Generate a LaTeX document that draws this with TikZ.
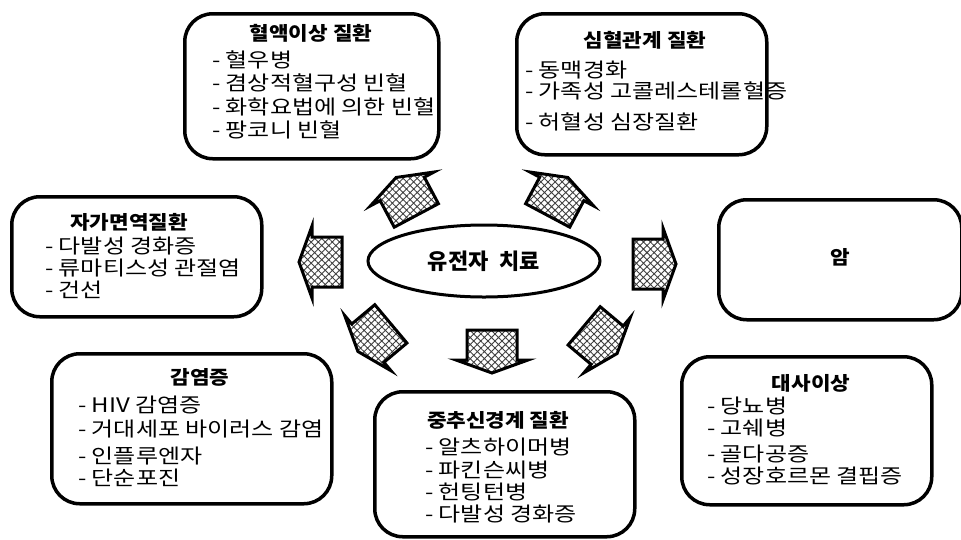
\documentclass[tikz,border=0pt]{standalone}
\usepackage{fontspec}
\setmainfont{Noto Sans CJK KR}
\newfontfamily\krwide{Noto Sans CJK KR}[FakeStretch=1.2]
\newfontfamily\krtitle{Noto Sans CJK KR}[FakeStretch=1.12]
\usetikzlibrary{patterns.meta,shapes.geometric}
\tikzset{
  box/.style={draw, line width=3.5pt, rounded corners=28pt, anchor=north west, inner sep=0pt},
  ttl/.style={font=\krtitle\fontsize{19}{23}\selectfont\bfseries, inner sep=0pt},
  itm/.style={font=\krwide\fontsize{20}{23}\selectfont, anchor=west, inner sep=0pt},
  harrow/.style={draw, line width=3pt, line join=miter, preaction={fill=white},
    pattern={Hatch[angle=45,distance=5pt,line width=0.9pt]}, pattern color=black!75},
}
\begin{document}
\begin{tikzpicture}[x=1pt,y=-1pt]
\useasboundingbox[fill=white] (0,0) rectangle (961,539);

% centre
\node[draw, ellipse, line width=3pt, minimum width=232pt, minimum height=72pt,
      font=\fontsize{22}{24}\selectfont\bfseries] (gt) at (484,261) {유전자\hspace{0.5em}치료};

% arrows
\foreach \cx/\cy/\ang in {406/196/118, 558/196/62, 320/262/180, 655/264/0,
                          374/338/220, 492/352/270, 601/340/320}{
  \begin{scope}[shift={(\cx,\cy)}, rotate=\ang]
    \draw[harrow] (-22,-25) -- (8,-25) -- (8,-36) -- (21,0) -- (8,36) -- (8,25) -- (-22,25) -- cycle;
  \end{scope}
}

% box 1
\node[box, minimum width=254pt, minimum height=145pt] (b1) at (183,12) {};
\node[ttl] (b1t) at (311,33) {혈액이상 질환};
\node[itm] (b1a) at (212,60) {- 혈우병};
\node[itm] (b1b) at (212,83) {- 겸상적혈구성 빈혈};
\node[itm] (b1c) at (212,107) {- 화학요법에 의한 빈혈};
\node[itm] (b1d) at (212,130) {- 팡코니 빈혈};

% box 2
\node[box, minimum width=250pt, minimum height=141pt] (b2) at (515,12) {};
\node[ttl] (b2t) at (645,40) {심혈관계 질환};
\node[itm] (b2a) at (525,70) {- 동맥경화};
\node[itm] (b2b) at (525,91) {- 가족성 고콜레스테롤혈증};
\node[itm] (b2c) at (525,122) {- 허혈성 심장질환};

% box 3
\node[box, minimum width=250pt, minimum height=120pt] (b3) at (10,195) {};
\node[ttl] (b3t) at (129,222) {자가면역질환};
\node[itm] (b3a) at (45,246) {- 다발성 경화증};
\node[itm] (b3b) at (45,268) {- 류마티스성 관절염};
\node[itm] (b3c) at (45,290) {- 건선};

% box 7
\node[box, minimum width=243pt, minimum height=120pt] (b7) at (717,198) {};
\node[ttl] (b7t) at (840,257) {암};

% box 4
\node[box, minimum width=280pt, minimum height=150pt] (b4) at (50,352) {};
\node[ttl] (b4t) at (200,377) {감염증};
\node[itm] (b4a) at (78,405) {- HIV 감염증};
\node[itm] (b4b) at (78,429) {- 거대세포 바이러스 감염};
\node[itm] (b4c) at (78,456) {- 인플루엔자};
\node[itm] (b4d) at (78,478) {- 단순포진};

% box 5
\node[box, minimum width=260pt, minimum height=145pt] (b5) at (373,390) {};
\node[ttl] (b5t) at (498,420) {중추신경계 질환};
\node[itm] (b5a) at (425,447) {- 알츠하이머병};
\node[itm] (b5b) at (425,470) {- 파킨슨씨병};
\node[itm] (b5c) at (425,492) {- 헌팅턴병};
\node[itm] (b5d) at (425,514) {- 다발성 경화증};

% box 6
\node[box, minimum width=250pt, minimum height=148pt] (b6) at (680,355) {};
\node[ttl] (b6t) at (811,383) {대사이상};
\node[itm] (b6a) at (707,406) {- 당뇨병};
\node[itm] (b6b) at (707,428) {- 고쉐병};
\node[itm] (b6c) at (707,454) {- 골다공증};
\node[itm] (b6d) at (707,476) {- 성장호르몬 결핍증};
\end{tikzpicture}
\end{document}
